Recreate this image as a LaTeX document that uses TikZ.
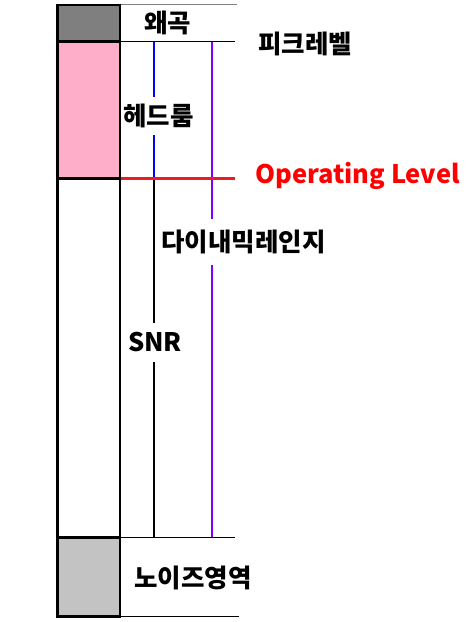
\documentclass[tikz,border=0pt]{standalone}
\usepackage{fontspec}
\newfontfamily\kr{Noto Sans CJK KR}
\usetikzlibrary{positioning}
\definecolor{distgray}{RGB}{127,127,127}
\definecolor{headpink}{RGB}{255,174,201}
\definecolor{noisegray}{RGB}{195,195,195}
\definecolor{oplred}{RGB}{237,28,36}
\definecolor{txtred}{RGB}{255,0,0}
\definecolor{dynviolet}{RGB}{128,0,255}

\begin{document}
\begin{tikzpicture}[x=1pt,y=-1pt,
  lbl/.style={font=\kr\bfseries\fontsize{25.5}{25.5}\selectfont, inner sep=0pt},
  seg/.style={draw, line width=2.5pt},
  thin/.style={line width=1pt}]
\useasboundingbox (0,0) rectangle (472,622);
%\draw [help lines] grid (472,622);
% column
\filldraw[seg, fill=distgray] (57.5,4.8) rectangle (120,41.7);
\filldraw[seg, fill=headpink] (57.5,41.7) rectangle (120,178.5);
\filldraw[seg, fill=white] (57.5,178.5) rectangle (120,537.3);
\filldraw[seg, fill=noisegray] (57.5,537.3) rectangle (120,616.5);

\coordinate (t0) at (121,4);
\coordinate (t1) at (237,4);
\coordinate (p0) at (121,41.7);
\coordinate (p1) at (235,41.7);
\coordinate (o0) at (121,178.5);
\coordinate (o1) at (235,178.5);
\coordinate (n0) at (121,537.3);
\coordinate (n1) at (235,537.3);
\coordinate (b0) at (121,616.3);
\coordinate (b1) at (239,616.3);

\node[lbl] (W) at (167.5,23) {왜곡};
\node[lbl] (P) at (305,44) {피크레벨};
\node[lbl, minimum height=38pt] (H) at (158.5,116) {헤드룸};
\node[lbl, text=txtred] (O) at (357.5,176) {Operating Level};
\node[lbl, minimum height=46pt] (D) at (243.5,242) {다이내믹레인지};
\node[lbl, minimum height=39pt] (S) at (155,342.5) {SNR};
\node[lbl] (N) at (193,578) {노이즈영역};

\draw[thin, distgray] (t0) -- (t1);
\draw[thin] (p0) -- (p1);
\draw[thin] (n0) -- (n1);
\draw[thin] (b0) -- (b1);

\draw[line width=1.6pt, blue] (154,41.7) -- (154,41.7 |- H.north);
\draw[line width=1.6pt, blue] (154,0 |- H.south) -- (154,178.5);
\draw[line width=1.6pt] (154,178.5) -- (154,0 |- S.north);
\draw[line width=1.6pt] (154,0 |- S.south) -- (154,537.3);
\draw[line width=1.6pt, dynviolet] (212,41.7) -- (212,0 |- D.north);
\draw[line width=1.6pt, dynviolet] (212,0 |- D.south) -- (212,537.3);
\draw[line width=2.5pt, oplred] (o0) -- (o1);

\end{tikzpicture}
\end{document}
